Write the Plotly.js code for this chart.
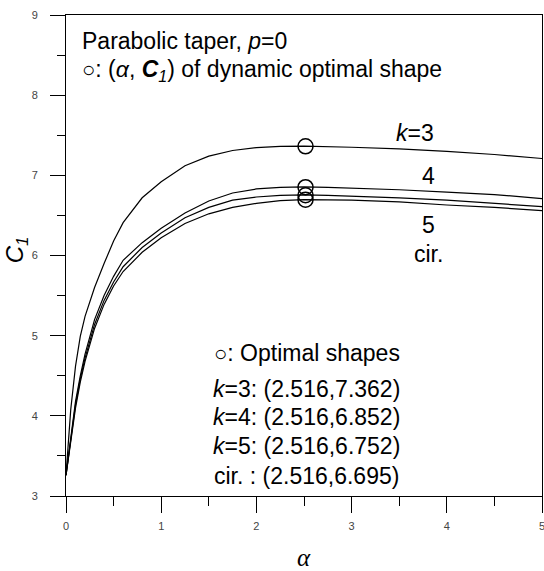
<!DOCTYPE html>
<html>
<head>
<meta charset="utf-8">
<script src="https://cdn.plot.ly/plotly-3.0.1.min.js"></script>
<style>html,body{margin:0;padding:0;background:#fff;}</style>
</head>
<body>
<div id="chart" style="width:544px;height:571px;"></div>
<script>
// alpha values (x)
const alpha = [0, 0.05, 0.1, 0.15, 0.2, 0.3, 0.4, 0.5, 0.6, 0.8, 1.0, 1.25, 1.5, 1.75, 2.0, 2.25, 2.5, 2.75, 3.0, 3.5, 4.0, 4.5, 5.0];
// C1 curves
const c1_k3  = [3.26, 4.08, 4.62, 4.99, 5.24, 5.60, 5.90, 6.18, 6.41, 6.72, 6.92, 7.12, 7.24, 7.31, 7.345, 7.36, 7.365, 7.36, 7.35, 7.33, 7.30, 7.26, 7.21];
const c1_k4  = [3.26, 3.75, 4.18, 4.50, 4.77, 5.20, 5.50, 5.74, 5.94, 6.16, 6.34, 6.53, 6.68, 6.78, 6.83, 6.85, 6.855, 6.85, 6.84, 6.82, 6.79, 6.76, 6.71];
const c1_k5  = [3.26, 3.72, 4.14, 4.46, 4.72, 5.14, 5.44, 5.67, 5.86, 6.10, 6.28, 6.47, 6.60, 6.69, 6.73, 6.75, 6.755, 6.75, 6.74, 6.72, 6.69, 6.65, 6.61];
const c1_cir = [3.26, 3.70, 4.10, 4.42, 4.68, 5.09, 5.39, 5.62, 5.80, 6.04, 6.22, 6.40, 6.52, 6.60, 6.65, 6.685, 6.697, 6.695, 6.69, 6.67, 6.63, 6.60, 6.56];
// optimal shapes
const optAlpha = [2.516, 2.516, 2.516, 2.516];
const optC1 = [7.362, 6.852, 6.752, 6.695];
const optLabels = ["<i>k</i>=3", "<i>k</i>=4", "<i>k</i>=5", "cir. "];
const curveLabels = ["<i>k</i>=3", "4", "5", "cir."];

const lineStyle = {color: '#000', width: 1.2};
const traces = [c1_k3, c1_k4, c1_k5, c1_cir].map(y => ({
  x: alpha, y: y, type: 'scatter', mode: 'lines', line: lineStyle,
  hoverinfo: 'skip', showlegend: false
}));
traces.push({
  x: optAlpha, y: optC1, type: 'scatter', mode: 'markers',
  marker: {symbol: 'circle', size: 15, color: 'rgba(255,255,255,0)', line: {color: '#000', width: 1.5}},
  showlegend: false
});

const F = 'Arial, "Liberation Sans", sans-serif';
const ann = [];
function txt(x, y, text, size, xanchor, extra) {
  ann.push(Object.assign({x: x, y: y, xref: 'x', yref: 'y', text: text, showarrow: false,
    xanchor: xanchor || 'center', yanchor: 'middle', font: {family: F, size: size, color: '#000'}}, extra || {}));
}
const circ = '<span style="font-size:22px">○</span>';
txt(0.142, 8.68, 'Parabolic taper, <i>p</i>=0', 23, 'left');
txt(0.142, 8.31, circ + ': (<i>α</i>, <b><i>C</i></b><sub><i>1</i></sub>) of dynamic optimal shape', 23, 'left');
const curveLabelPos = [[3.667, 7.525], [3.807, 6.99], [3.81, 6.377], [3.81, 6.015]];
curveLabels.forEach((t, i) => txt(curveLabelPos[i][0], curveLabelPos[i][1], t, 23));
txt(2.53, 4.779, circ + ': Optimal shapes', 23);
const blockY = [4.34, 3.98, 3.62, 3.255];
optLabels.forEach((t, i) => txt(2.525, blockY[i], t + ': (' + optAlpha[i].toFixed(3) + ',' + optC1[i].toFixed(3) + ')', 23));
// axis titles
ann.push({x: -0.105, y: 0.511, xref: 'paper', yref: 'paper', text: '<i>C</i><sub><i>1</i></sub>', textangle: -90,
  showarrow: false, xanchor: 'center', yanchor: 'middle', font: {family: F, size: 24, color: '#000'}});
ann.push({x: 0.5, y: -0.128, xref: 'paper', yref: 'paper', text: '<i>α</i>',
  showarrow: false, xanchor: 'center', yanchor: 'middle', font: {family: '"Liberation Serif", "Times New Roman", serif', size: 25, color: '#000'}});

const layout = {
  width: 544, height: 571,
  margin: {l: 66, r: 2, t: 15, b: 75},
  paper_bgcolor: '#fff', plot_bgcolor: '#fff',
  showlegend: false,
  xaxis: {
    range: [0, 5], dtick: 1, tick0: 0, showgrid: false, zeroline: false,
    showline: true, linecolor: '#000', linewidth: 1, mirror: true,
    ticks: 'outside', ticklen: 16, tickwidth: 1, tickcolor: '#000',
    minor: {dtick: 0.5, ticks: 'outside', ticklen: 9, tickwidth: 1, tickcolor: '#000', showgrid: false},
    tickfont: {family: F, size: 11, color: '#444'}, ticklabelstandoff: 4,
    ticklabeloverflow: 'allow'
  },
  yaxis: {
    range: [3, 9], dtick: 1, tick0: 3, showgrid: false, zeroline: false,
    showline: true, linecolor: '#000', linewidth: 1, mirror: true,
    ticks: 'outside', ticklen: 15, tickwidth: 1, tickcolor: '#000',
    minor: {dtick: 0.5, ticks: 'outside', ticklen: 8, tickwidth: 1, tickcolor: '#000', showgrid: false},
    tickfont: {family: F, size: 11, color: '#444'}, ticklabelstandoff: 10,
    ticklabeloverflow: 'allow'
  },
  annotations: ann
};
Plotly.newPlot('chart', traces, layout, {staticPlot: true, displayModeBar: false});
</script>
</body>
</html>
